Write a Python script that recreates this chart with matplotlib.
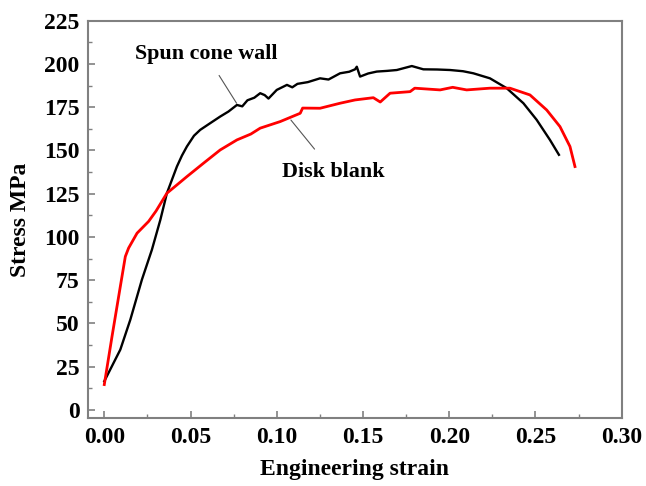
import matplotlib
matplotlib.use("Agg")
import matplotlib.pyplot as plt
from matplotlib.ticker import MultipleLocator

# Spun cone wall (black)
spun_strain = [0.0, 0.0093, 0.0151, 0.0218, 0.0276, 0.0325, 0.0363, 0.0421, 0.0450,
               0.0479, 0.0520, 0.0556, 0.0610, 0.0672, 0.0720, 0.0769, 0.0800, 0.0830,
               0.0870, 0.0904, 0.0930, 0.0952, 0.1000, 0.1059, 0.1090, 0.1120, 0.1180,
               0.1251, 0.1300, 0.1367, 0.1420, 0.1454, 0.1464, 0.1483, 0.1530, 0.1580,
               0.1640, 0.1696, 0.1783, 0.1850, 0.1930, 0.2005, 0.2080, 0.2140, 0.2236,
               0.2333, 0.2430, 0.2507, 0.2584, 0.2636]
spun_stress = [16.6, 34.9, 52.2, 75.3, 92.6, 109.9, 125.3, 140.7, 147.0,
               152.3, 158.5, 161.9, 165.5, 169.6, 172.5, 176.3, 175.5, 179.0,
               180.5, 183.1, 182.0, 180.0, 185.0, 187.9, 186.5, 188.5, 189.5,
               191.7, 191.0, 194.6, 195.5, 196.9, 198.4, 192.7, 194.5, 195.6,
               196.0, 196.5, 198.8, 196.9, 196.8, 196.5, 195.8, 194.6, 191.7,
               186.0, 177.3, 167.7, 156.1, 147.5]

# Disk blank (red)
disk_strain = [0.0, 0.0045, 0.0093, 0.0122, 0.0141, 0.0190, 0.0257, 0.0300, 0.0363,
               0.0420, 0.0479, 0.0576, 0.0672, 0.0769, 0.0850, 0.0904, 0.1020, 0.1136,
               0.1150, 0.1251, 0.1367, 0.1454, 0.1560, 0.1600, 0.1657, 0.1773, 0.1800,
               0.1947, 0.2020, 0.2101, 0.2236, 0.2352, 0.2468, 0.2565, 0.2642, 0.2700,
               0.2729]
disk_stress = [14.7, 42.6, 71.4, 88.7, 93.6, 102.2, 109.0, 115.0, 125.3,
               130.0, 134.9, 142.7, 150.3, 156.1, 159.5, 162.9, 166.7, 171.5,
               174.5, 174.4, 177.3, 179.2, 180.5, 178.0, 183.1, 184.0, 186.0,
               185.0, 186.5, 185.0, 186.0, 186.0, 182.1, 173.4, 163.8, 152.3,
               140.7]

xticks = [0.00, 0.05, 0.10, 0.15, 0.20, 0.25, 0.30]
yticks = [0, 25, 50, 75, 100, 125, 150, 175, 200, 225]

plt.rcParams['font.family'] = ['Liberation Serif', 'DejaVu Serif']
plt.rcParams['font.weight'] = 'bold'

fig = plt.figure(figsize=(6.46, 4.86), dpi=100)
ax = fig.add_axes([0.1358, 0.1393, 0.8266, 0.8181])

ax.plot(spun_strain, spun_stress, color='black', lw=1.7)
ax.plot(disk_strain, disk_stress, color='#ff0000', lw=2.0)

ax.set_xlim(-0.0096, 0.30)
ax.set_ylim(-4.8, 225)
ax.set_xticks(xticks)
ax.set_yticks(yticks)
ax.set_xticklabels([f"{v:.2f}" for v in xticks])
ax.set_yticklabels([str(v) for v in yticks])
ax.xaxis.set_minor_locator(MultipleLocator(0.025))
ax.yaxis.set_minor_locator(MultipleLocator(12.5))

for s in ax.spines.values():
    s.set_color('#808080')
    s.set_linewidth(1.5)
ax.tick_params(which='both', direction='in', colors='#808080', labelcolor='black',
               top=False, right=False)
ax.tick_params(which='major', length=5, width=1.2, labelsize=17, pad=6)
ax.tick_params(which='minor', length=3, width=1.0)
for lab in ax.get_xticklabels() + ax.get_yticklabels():
    lab.set_fontweight('bold')

ax.set_xlabel('Engineering strain', fontsize=17, fontweight='bold', labelpad=8)
ax.set_ylabel('Stress MPa', fontsize=17, fontweight='bold', labelpad=9)

ax.annotate('Spun cone wall', xy=(0.0767, 177.3), xytext=(0.0589, 205.5),
            fontsize=15.8, fontweight='bold', ha='center', va='center',
            arrowprops=dict(arrowstyle='-', color='#555555', lw=0.8,
                            shrinkA=7, shrinkB=0))
ax.annotate('Disk blank', xy=(0.1082, 167.6), xytext=(0.1325, 137.8),
            fontsize=15.8, fontweight='bold', ha='center', va='center',
            arrowprops=dict(arrowstyle='-', color='#555555', lw=0.8,
                            shrinkA=9, shrinkB=0))

fig.savefig('out.png', dpi=100)
